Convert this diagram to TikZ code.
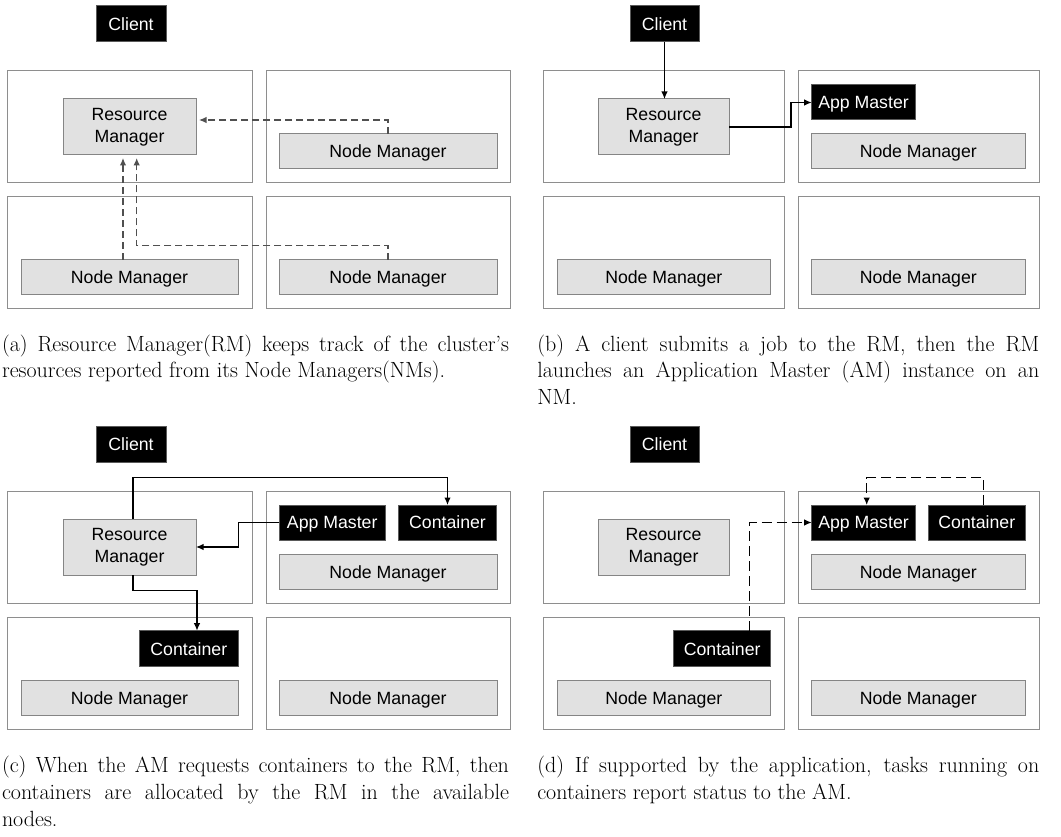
\documentclass[tikz,border=0pt]{standalone}
\usepackage{fontspec}
\setsansfont{Liberation Sans}
\usetikzlibrary{arrows.meta}
\definecolor{framegray}{HTML}{8E8E8E}
\definecolor{edgegray}{HTML}{858585}
\definecolor{boxgray}{HTML}{E1E1E1}
\definecolor{darkedge}{HTML}{5A5A5A}
\definecolor{reportgray}{HTML}{505050}
\begin{document}
\begin{tikzpicture}[x=1pt,y=-1pt,
  frame/.style={draw=framegray, line width=1pt},
  labelfont/.style={font=\sffamily\fontsize{17.7}{21.7}\selectfont},
  oneline/.style={text height=12.7pt, text depth=0pt},
  grayb/.style={labelfont, draw=edgegray, fill=boxgray, line width=1pt,
    inner sep=0pt, outer sep=0pt, align=center},
  blackb/.style={labelfont, oneline, draw=darkedge, fill=black, text=white, line width=1pt,
    inner sep=0pt, outer sep=0pt, align=center},
  nmsize/.style={oneline, minimum width=218, minimum height=35},
  flow/.style={draw=black, line width=1.25pt, -{Latex[length=7.5pt,width=6.5pt]}},
  report/.style={draw=reportgray, line width=1.25pt, dash pattern=on 7pt off 4pt,
    -{Latex[length=7.5pt,width=6.5pt]}, shorten >=3pt},
  status/.style={draw=black, line width=1.25pt, dash pattern=on 10pt off 5pt,
    -{Latex[length=7.5pt,width=6.5pt]}},
  captext/.style={anchor=base west, inner sep=0pt, outer sep=0pt, align=justify,
    font=\fontsize{22}{27}\selectfont}
]
\useasboundingbox (0,0) rectangle (1061,837);

% ---------------- (a) cluster resources reported to the RM ----------------
\draw[frame] (7,71) rectangle (252,183);
\draw[frame] (266,71) rectangle (510,183);
\draw[frame] (7,197) rectangle (252,309);
\draw[frame] (266,197) rectangle (510,309);
\node[blackb, minimum width=70, minimum height=36] (aclient) at (131,24) {Client};
\node[grayb, minimum width=133, minimum height=56] (arm) at (129.5,127) {Resource\\Manager};
\node[grayb, nmsize] (anm1) at (388,151.5) {Node Manager};
\node[grayb, nmsize, minimum width=217] (anm2) at (129.5,277.5) {Node Manager};
\node[grayb, nmsize] (anm3) at (388,277.5) {Node Manager};
\coordinate (ay1) at (0,120);
\coordinate (ay2) at (0,245.7);
\coordinate (ax1) at (123,0);
\coordinate (ax2) at (136.7,0);
\draw[report] (anm1.north) |- (arm.east |- ay1);
\draw[report] (anm2.north -| ax1) -- (arm.south -| ax1);
\draw[report] (anm3.north) |- (ax2 |- ay2) -- (arm.south -| ax2);
\node[captext, text width=507pt] (capa) at (2,351)
  {(a) Resource Manager(RM) keeps track of the cluster's\linebreak
   resources reported from its Node Managers(NMs).};

% ---------------- (b) job submission and AM launch ----------------
\draw[frame] (543,71) rectangle (784,183);
\draw[frame] (798,71) rectangle (1039,183);
\draw[frame] (543,197) rectangle (784,309);
\draw[frame] (798,197) rectangle (1039,309);
\node[blackb, minimum width=69, minimum height=36] (bclient) at (664.5,24) {Client};
\node[grayb, minimum width=131, minimum height=56] (brm) at (663.5,127) {Resource\\Manager};
\node[blackb, minimum width=103.6, minimum height=35] (bam) at (863.5,102.5) {App Master};
\node[grayb, nmsize, minimum width=213.5] (bnm1) at (918.3,151.5) {Node Manager};
\node[grayb, nmsize, minimum width=213.5] (bnm2) at (663.8,277.5) {Node Manager};
\node[grayb, nmsize, minimum width=213.5] (bnm3) at (918.3,277.5) {Node Manager};
\draw[flow] (bclient.south) -- (bclient.south |- brm.north);
\draw[flow] (brm.east) -- ++(62,0) |- (bam.west);
\node[captext, text width=502pt] (capb) at (537.3,351)
  {(b) A client submits a job to the RM, then the RM\linebreak
   launches an Application Master (AM) instance on an\linebreak
   NM.};

% ---------------- (c) container requests and allocation ----------------
\draw[frame] (7,491) rectangle (252,603);
\draw[frame] (266,491) rectangle (510,603);
\draw[frame] (7,617) rectangle (252,729);
\draw[frame] (266,617) rectangle (510,729);
\node[blackb, minimum width=70, minimum height=36] (cclient) at (131,444.5) {Client};
\node[grayb, minimum width=133, minimum height=56] (crm) at (129.5,547) {Resource\\Manager};
\node[blackb, minimum width=105.7, minimum height=35] (cam) at (332.2,522.5) {App Master};
\node[blackb, minimum width=98.4, minimum height=35] (cct) at (447.5,522.5) {Container};
\node[grayb, nmsize] (cnm1) at (388,571.8) {Node Manager};
\node[blackb, minimum width=99, minimum height=36] (ccb) at (188.8,648.7) {Container};
\node[grayb, nmsize, minimum width=217] (cnm2) at (129.5,697.7) {Node Manager};
\node[grayb, nmsize] (cnm3) at (388,697.7) {Node Manager};
\coordinate (cx1) at (133,0);
\coordinate (cx2) at (197,0);
\coordinate (cy1) at (0,477.7);
\coordinate (cy2) at (0,590.7);
\draw[flow] (crm.north -| cx1) -- (cx1 |- cy1) -| (cct.north);
\draw[flow] (cam.west) -- ++(-41,0) |- (crm.east);
\draw[flow] (crm.south -| cx1) -- (cx1 |- cy2) -| (ccb.north -| cx2);
\node[captext, text width=507pt] (capc) at (2,772)
  {(c) When the AM requests containers to the RM, then\linebreak
   containers are allocated by the RM in the available\linebreak
   nodes.};

% ---------------- (d) container status reports to the AM ----------------
\draw[frame] (543,491) rectangle (784,603);
\draw[frame] (798,491) rectangle (1039,603);
\draw[frame] (543,617) rectangle (784,729);
\draw[frame] (798,617) rectangle (1039,729);
\node[blackb, minimum width=69, minimum height=36] (dclient) at (664.5,444.5) {Client};
\node[grayb, minimum width=131, minimum height=56] (drm) at (663.5,547) {Resource\\Manager};
\node[blackb, minimum width=103.6, minimum height=35] (dam) at (863.5,522.5) {App Master};
\node[blackb, minimum width=97, minimum height=35] (dct) at (976.8,522.5) {Container};
\node[grayb, nmsize, minimum width=213.5] (dnm1) at (918.3,571.8) {Node Manager};
\node[blackb, minimum width=97, minimum height=36] (dcb) at (722.2,648.7) {Container};
\node[grayb, nmsize, minimum width=213.5] (dnm2) at (663.8,697.7) {Node Manager};
\node[grayb, nmsize, minimum width=213.5] (dnm3) at (918.3,697.7) {Node Manager};
\coordinate (dx1) at (983.7,0);
\coordinate (dx2) at (866.7,0);
\coordinate (dx3) at (749.7,0);
\coordinate (dy1) at (0,477.7);
\draw[status] (dct.north -| dx1) -- (dx1 |- dy1) -| (dam.north -| dx2);
\draw[status] (dcb.north -| dx3) |- (dam.west);
\node[captext, text width=502pt] (capd) at (537.3,772)
  {(d) If supported by the application, tasks running on\linebreak
   containers report status to the AM.};
\end{tikzpicture}
\end{document}
